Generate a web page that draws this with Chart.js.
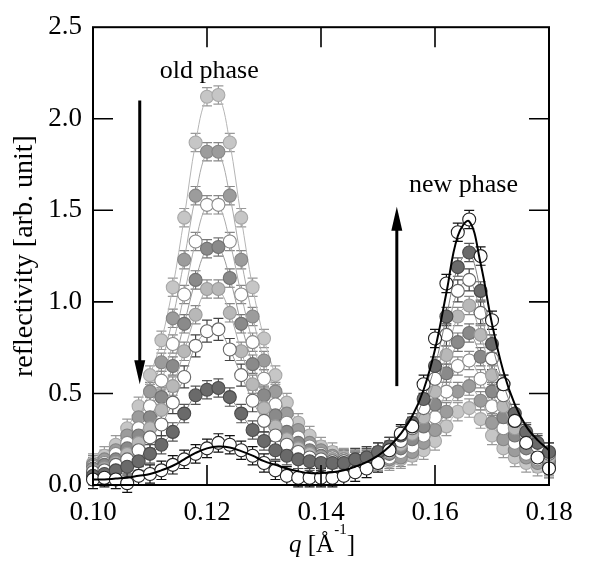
<!DOCTYPE html>
<html><head><meta charset="utf-8">
<script src="https://cdn.jsdelivr.net/npm/chart.js@4/dist/chart.umd.min.js"></script>
<style>html,body{margin:0;padding:0;background:#fff}</style>
</head><body>
<canvas id="c" width="590" height="561"></canvas>
<script>
// ---- data ----
const qValues = [0.100,0.102,0.104,0.106,0.108,0.110,0.112,0.114,0.116,0.118,0.120,0.122,0.124,0.126,0.128,0.130,0.132,0.134,0.136,0.138,0.140,0.142,0.144,0.146,0.148,0.150,0.152,0.154,0.156,0.158,0.160,0.162,0.164,0.166,0.168,0.170,0.172,0.174,0.176,0.178,0.180];
const seriesA = [.12,.16,.22,.31,.43,.60,.79,1.08,1.46,1.87,2.12,2.13,1.87,1.46,1.08,.80,.60,.45,.34,.27,.21,.18,.15,.14,.13,.13,.13,.14,.16,.19,.24,.32,.40,.42,.36,.27,.20,.15,.12,.10,.09];
const seriesB = [.11,.14,.19,.27,.37,.51,.67,.91,1.23,1.58,1.82,1.82,1.58,1.23,.92,.68,.51,.39,.30,.23,.19,.16,.14,.13,.13,.13,.14,.15,.18,.23,.30,.40,.51,.54,.46,.34,.25,.19,.15,.12,.10];
const seriesC = [.10,.12,.17,.23,.31,.43,.57,.77,1.04,1.33,1.53,1.53,1.33,1.04,.78,.58,.44,.34,.26,.21,.17,.15,.14,.13,.13,.14,.15,.18,.21,.27,.37,.51,.65,.68,.58,.43,.31,.23,.17,.14,.11];
const seriesD = [.09,.11,.14,.20,.27,.37,.48,.65,.88,1.12,1.29,1.30,1.13,.88,.66,.49,.38,.29,.23,.19,.16,.14,.13,.13,.14,.15,.17,.20,.25,.32,.44,.61,.78,.83,.70,.51,.37,.27,.20,.16,.13];
const seriesE = [.08,.09,.12,.17,.23,.31,.41,.54,.73,.93,1.07,1.07,.94,.73,.55,.42,.32,.25,.20,.17,.15,.14,.13,.13,.14,.16,.18,.22,.28,.37,.51,.71,.92,.98,.82,.60,.43,.31,.23,.18,.15];
const seriesF = [.07,.08,.11,.14,.19,.26,.33,.45,.59,.76,.84,.85,.74,.60,.46,.35,.27,.22,.18,.15,.14,.13,.13,.14,.15,.17,.20,.24,.31,.42,.58,.82,1.06,1.12,.94,.69,.49,.35,.27,.21,.17];
const seriesG = [.05,.06,.08,.10,.13,.17,.22,.29,.39,.49,.52,.53,.48,.39,.30,.24,.19,.16,.14,.13,.12,.12,.12,.14,.15,.18,.21,.27,.34,.47,.65,.92,1.19,1.27,1.06,.77,.55,.39,.29,.23,.18];
const seriesH = [.03,.04,.03,.01,.05,.06,.08,.11,.14,.17,.20,.23,.22,.19,.16,.12,.08,.05,.04,.04,.04,.04,.05,.07,.09,.12,.19,.28,.32,.55,.80,1.10,1.38,1.45,1.25,.90,.55,.35,.23,.15,.09];
const fitFinal = [.03,.03,.035,.04,.05,.06,.08,.105,.14,.175,.20,.21,.205,.185,.16,.13,.11,.09,.075,.065,.065,.07,.08,.10,.125,.16,.21,.28,.375,.52,.74,1.05,1.36,1.44,1.21,.88,.62,.44,.32,.245,.19];
const errorSizes = {A:.05,B:.05,C:.05,D:.05,E:.05,F:.06,G:.05,H:.05};
const xTickValues = [0.10,0.12,0.14,0.16,0.18];
const yTickValues = [0.0,0.5,1.0,1.5,2.0,2.5];
const noteTexts = ['old phase','new phase'];
const noteQ = [0.1204,0.1650];
const noteR = [2.22,1.60];
const arrowQ = [0.1082,0.1533];
const arrowFrom = [2.10,0.54];
const arrowTo = [0.55,1.52];

const FONT = "'Liberation Serif', 'Times New Roman', serif";
Chart.defaults.font.family = FONT;
const pts = arr => qValues.map((q,i)=>({x:q,y:arr[i]}));

function markerSet(label, arr, fill, border, line, err, errColor){
  return {label, data:pts(arr), showLine:!!line, borderColor:line||border, borderWidth:1,
    pointBackgroundColor:fill, pointBorderColor:border, pointBorderWidth:1.1, pointRadius:6.5,
    tension:0.35, clip:false, errorBar:err, errColor:errColor};
}

const datasets = [
  {label:'fit', data:pts(fitFinal), showLine:true, borderColor:'#000', borderWidth:2, pointRadius:0, tension:0.4, clip:false},
  markerSet('H', seriesH, '#ffffff', '#222', null, errorSizes.H, '#111'),
  markerSet('G', seriesG, '#6a6a6a', '#4a4a4a', '#808080', errorSizes.G, '#555'),
  markerSet('F', seriesF, '#ffffff', '#666', '#999', errorSizes.F, '#444'),
  markerSet('E', seriesE, '#b8b8b8', '#9a9a9a', '#aaa', errorSizes.E, '#888'),
  markerSet('D', seriesD, '#8a8a8a', '#707070', '#999', errorSizes.D, '#777'),
  markerSet('C', seriesC, '#ffffff', '#8a8a8a', '#aaa', errorSizes.C, '#888'),
  markerSet('B', seriesB, '#9c9c9c', '#858585', '#aaa', errorSizes.B, '#888'),
  markerSet('A', seriesA, '#c6c6c6', '#a8a8a8', '#b5b5b5', errorSizes.A, '#999')
];

const decor = {
  id:'decor',
  beforeDatasetsDraw(chart){
    const ctx=chart.ctx, ys=chart.scales.y;
    ctx.save();
    chart.data.datasets.forEach((ds,di)=>{
      if(!ds.errorBar) return;
      const meta=chart.getDatasetMeta(di);
      ctx.strokeStyle=ds.errColor; ctx.lineWidth=1.2;
      meta.data.forEach((p,i)=>{
        const v=ds.data[i].y;
        const t=ys.getPixelForValue(v+ds.errorBar), b=ys.getPixelForValue(v-ds.errorBar);
        ctx.beginPath();
        ctx.moveTo(p.x,t); ctx.lineTo(p.x,b);
        ctx.moveTo(p.x-5,t); ctx.lineTo(p.x+5,t);
        ctx.moveTo(p.x-5,b); ctx.lineTo(p.x+5,b);
        ctx.stroke();
      });
    });
    ctx.restore();
  },
  afterDraw(chart){
    const ctx=chart.ctx, a=chart.chartArea, xs=chart.scales.x, ys=chart.scales.y;
    ctx.save();
    ctx.strokeStyle='#000'; ctx.fillStyle='#000';
    ctx.lineWidth=2;
    ctx.strokeRect(a.left,a.top,a.right-a.left,a.bottom-a.top);
    ctx.lineWidth=1.6;
    ctx.beginPath();
    xTickValues.slice(1,-1).forEach(v=>{
      const px=xs.getPixelForValue(v);
      ctx.moveTo(px,a.bottom); ctx.lineTo(px,a.bottom-20);
      ctx.moveTo(px,a.top); ctx.lineTo(px,a.top+20);
    });
    yTickValues.slice(1,-1).forEach(v=>{
      const py=ys.getPixelForValue(v);
      ctx.moveTo(a.left,py); ctx.lineTo(a.left+20,py);
      ctx.moveTo(a.right,py); ctx.lineTo(a.right-20,py);
    });
    ctx.stroke();
    // arrows
    arrowQ.forEach((q,i)=>{
      const x=xs.getPixelForValue(q), y0=ys.getPixelForValue(arrowFrom[i]), y1=ys.getPixelForValue(arrowTo[i]);
      const dir = y1>y0 ? 1 : -1, head=24;
      ctx.lineWidth=3;
      ctx.beginPath(); ctx.moveTo(x,y0); ctx.lineTo(x,y1-dir*head+dir*2); ctx.stroke();
      ctx.beginPath(); ctx.moveTo(x,y1); ctx.lineTo(x-5.5,y1-dir*head); ctx.lineTo(x+5.5,y1-dir*head); ctx.closePath(); ctx.fill();
    });
    // notes
    ctx.font='26px '+FONT; ctx.textAlign='center'; ctx.textBaseline='alphabetic';
    noteTexts.forEach((t,i)=>ctx.fillText(t, xs.getPixelForValue(noteQ[i]), ys.getPixelForValue(noteR[i])));
    // x title
    const parts=[['q','italic 25px '+FONT,0],[' [Å','25px '+FONT,0],['-1','15px '+FONT,-18],[']','25px '+FONT,0]];
    let w=0; parts.forEach(p=>{ctx.font=p[1]; w+=ctx.measureText(p[0]).width;});
    let x=(a.left+a.right)/2+1-w/2; const base=552;
    ctx.textAlign='left';
    parts.forEach(p=>{ctx.font=p[1]; ctx.fillText(p[0],x,base+p[2]); x+=ctx.measureText(p[0]).width;});
    ctx.restore();
  }
};

new Chart(document.getElementById('c'), {
  type:'scatter',
  data:{datasets},
  options:{
    responsive:false, animation:false, events:[],
    layout:{padding:{top:20,right:41,left:0,bottom:0}},
    plugins:{legend:{display:false}, tooltip:{enabled:false}},
    scales:{
      x:{type:'linear', min:0.10, max:0.18,
        afterBuildTicks:s=>{s.ticks=xTickValues.map(v=>({value:v}));},
        afterFit:s=>{s.height=76;},
        ticks:{callback:v=>Number(v).toFixed(2), font:{family:FONT,size:27}, color:'#000', padding:12, maxRotation:0, autoSkip:false},
        grid:{display:false, drawTicks:false}, border:{display:false}},
      y:{type:'linear', min:0, max:2.5,
        afterBuildTicks:s=>{s.ticks=yTickValues.map(v=>({value:v}));},
        afterFit:s=>{s.width=93;},
        ticks:{callback:v=>Number(v).toFixed(1), font:{family:FONT,size:27}, color:'#000', padding:11, autoSkip:false},
        title:{display:true, text:'reflectivity [arb. unit]', font:{family:FONT,size:28}, color:'#000', padding:{top:8,bottom:0}},
        grid:{display:false, drawTicks:false}, border:{display:false}}
    }
  },
  plugins:[decor]
});
</script>
</body></html>
